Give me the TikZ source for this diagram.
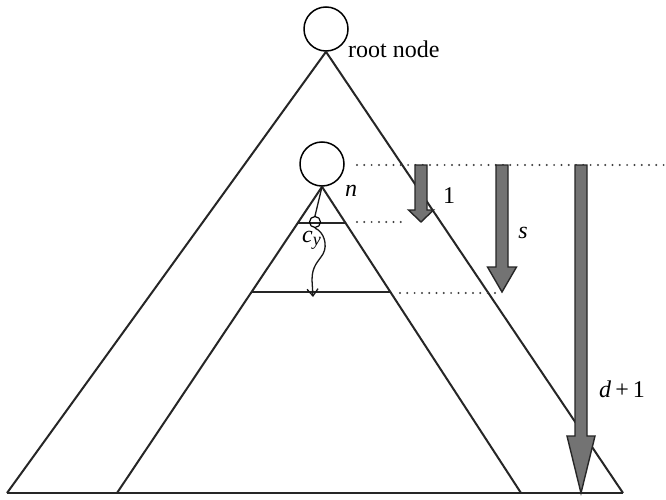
\documentclass[tikz,border=0pt]{standalone}
\usepackage{fontspec}
\setmainfont{Liberation Serif}
\usetikzlibrary{arrows.meta,calc}
\begin{document}
\begin{tikzpicture}[x=1pt,y=-1pt,
  edge/.style={line width=2pt, black!85},
  circ/.style={circle, draw, line width=1.5pt, inner sep=0pt, minimum size=44pt},
  smallcirc/.style={circle, draw, line width=1.2pt, inner sep=0pt, minimum size=11pt},
  dotline/.style={line width=2.2pt, dash pattern=on 0pt off 7.3pt, line cap=round, black!75},
  bigarrow/.style={fill=black!55, draw=black!85, line width=1.4pt, line join=miter},
  wavy/.style={line width=1.3pt, black!90},
  lbl/.style={font=\fontsize{24}{28}\selectfont, inner sep=0pt}
]
\useasboundingbox (0,0) rectangle (666,500);
\fill[white] (0,0) rectangle (666,500);
% circles
\node[circ] (root) at (326,29) {};
\node[circ] (n) at (322,164) {};
% base corners
\coordinate (BL) at (7,493);
\coordinate (BR) at (623,493);
\coordinate (IL) at (117,493);
\coordinate (IR) at (521,493);
% triangles
\draw[edge] (BL) -- (root.south) -- (BR);
\draw[edge] (IL) -- (n.south) -- (IR);
\draw[edge] (BL) -- (BR);
\coordinate (L1a) at ($(n.south)!0.117!(IL)$);
\coordinate (L1b) at ($(n.south)!0.117!(IR)$);
\coordinate (L2a) at ($(n.south)!0.345!(IL)$);
\coordinate (L2b) at ($(n.south)!0.345!(IR)$);
\draw[edge] (L1a) -- (L1b);
\draw[edge] (L2a) -- (L2b);
% c_y
\node[smallcirc] (cy) at (315,222) {};
\draw[wavy] (n.south) -- (cy.north);
\coordinate (cyend) at (313,297);
\draw[wavy, -{Straight Barb[length=7pt,width=11pt]}] (cy.south) .. controls (324,232) and (328,245) .. (323,254) .. controls (318,262) and (312,266) .. (312,280) -- (cyend);
% dotted lines
\coordinate (d1a) at (357,165); \coordinate (d1b) at (666,165);
\coordinate (d2a) at (357,222); \coordinate (d2b) at (408,222);
\coordinate (d3a) at (400,293); \coordinate (d3b) at (500,293);
\draw[dotline] (d1a) -- (d1b);
\draw[dotline] (d2a) -- (d2b);
\draw[dotline] (d3a) -- (d3b);
% big gray arrows
\draw[bigarrow] (415,165) -- (415,210) -- (408.5,210) -- (421,222) -- (433.5,210) -- (427,210) -- (427,165) -- cycle;
\draw[bigarrow] (496,165) -- (496,267) -- (487.5,267) -- (502,292) -- (516.5,267) -- (508,267) -- (508,165) -- cycle;
\draw[bigarrow] (575,165) -- (575,436) -- (567,436) -- (581,493) -- (595,436) -- (587,436) -- (587,165) -- cycle;
% labels
\node[lbl, anchor=base west] (rootlbl) at (348,58) {root node};
\node[lbl, anchor=base west] (nlbl) at (345,196) {\itshape n};
\node[lbl, anchor=base] (onelbl) at (449,203) {1};
\node[lbl, anchor=base] (slbl) at (523,238) {\itshape s};
\node[lbl, anchor=base west] (dlbl) at (599,397) {\textit{d}\,+\,1};
\node[lbl, anchor=base west] (cylbl) at (302,242) {\textit{c}\raisebox{-0.3ex}{\fontsize{18}{20}\selectfont\textit{y}}};
\end{tikzpicture}
\end{document}
